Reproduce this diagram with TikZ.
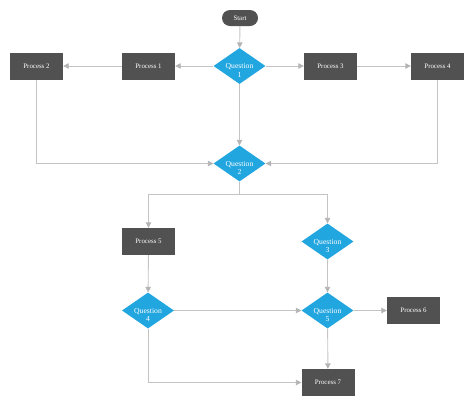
\documentclass[tikz,border=0pt]{standalone}
\usepackage{fontspec}
\setmainfont{Liberation Serif}
\usetikzlibrary{shapes.geometric,arrows.meta}
\definecolor{boxgray}{HTML}{515151}
\definecolor{qblue}{HTML}{22A6E0}
\definecolor{linegray}{HTML}{C4C4C4}
\definecolor{tipgray}{HTML}{B4B4B4}
\tikzset{
  procbox/.style={rectangle, fill=boxgray, text=white, minimum width=53bp, minimum height=27bp, inner sep=0pt, font=\fontsize{6.9}{9}\selectfont},
  startbox/.style={rectangle, rounded corners=8bp, fill=boxgray, text=white, minimum width=36bp, minimum height=16bp, inner sep=0pt, font=\fontsize{6.9}{9}\selectfont},
  qdiam/.style={diamond, aspect=1.44, fill=qblue, minimum width=52bp, minimum height=36bp, inner sep=0pt,
     label={[text=white, align=center, yshift=-4.5bp, font=\fontsize{7.7}{8.4}\selectfont]center:#1}},
  conn/.style={draw=linegray, line width=0.9bp, -{Triangle[width=5.5bp,length=5.5bp,fill=tipgray,color=tipgray]}},
  plainconn/.style={draw=linegray, line width=0.9bp},
}
\begin{document}
\begin{tikzpicture}[x=1bp,y=-1bp]
\useasboundingbox (0,0) rectangle (474,406);
\node[startbox] (start) at (240,18) {Start};
\node[qdiam={Question\\1}] (q1) at (239.5,66) {};
\node[procbox] (p1) at (148.5,66) {Process 1};
\node[procbox] (p2) at (36.5,66) {Process 2};
\node[procbox] (p3) at (330.5,66) {Process 3};
\node[procbox] (p4) at (437.5,66) {Process 4};
\node[qdiam={Question\\2}] (q2) at (239.5,163.5) {};
\coordinate (b) at (239.5,194);
\node[procbox] (p5) at (148.5,241.5) {Process 5};
\node[qdiam={Question\\3}] (q3) at (327.5,241.5) {};
\node[qdiam={Question\\4}] (q4) at (148,310.5) {};
\node[qdiam={Question\\5}] (q5) at (327.5,310.5) {};
\node[procbox] (p6) at (413.5,310.5) {Process 6};
\node[procbox] (p7) at (328,382.5) {Process 7};

\draw[conn] (start) -- (q1);
\draw[conn] (q1) -- (p1);
\draw[conn] (p1) -- (p2);
\draw[conn] (q1) -- (p3);
\draw[conn] (p3) -- (p4);
\draw[conn] (q1) -- (q2);
\draw[conn] (p2.south) |- (q2.west);
\draw[conn] (p4.south) |- (q2.east);
\draw[plainconn] (q2.south) -- (b);
\draw[conn] (b) -| (p5.north);
\draw[conn] (b) -| (q3.north);
\draw[conn] (p5) -- (q4);
\draw[conn] (q3) -- (q5);
\draw[conn] (q4) -- (q5);
\draw[conn] (q5) -- (p6);
\draw[conn] (q5) -- (p7);
\draw[conn] (q4.south) |- (p7.west);
\end{tikzpicture}
\end{document}
